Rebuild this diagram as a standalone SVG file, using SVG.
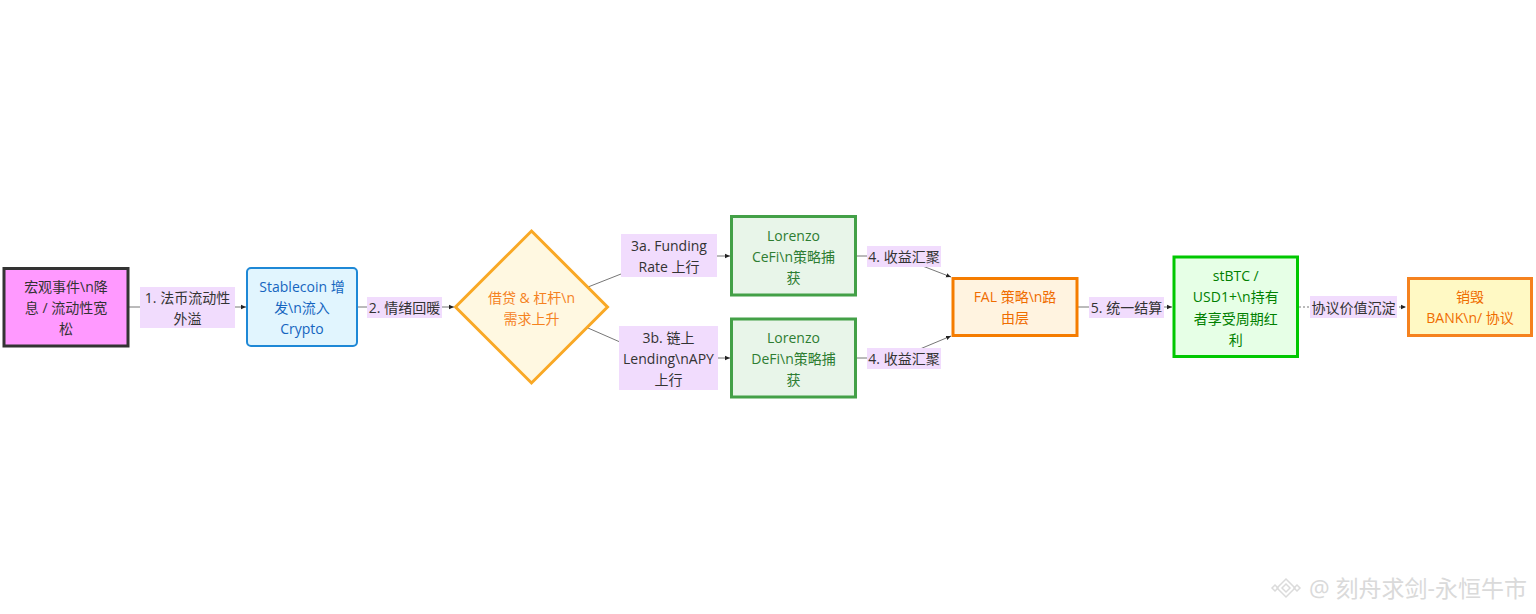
<svg xmlns="http://www.w3.org/2000/svg" width="1536" height="614" viewBox="0 0 1536 614">
<defs>
<marker id="arr" markerWidth="6" markerHeight="6" refX="5" refY="3" orient="auto" markerUnits="userSpaceOnUse">
<path d="M0,0.8 L5,3 L0,5.2 Z" fill="#222"/>
</marker>
<style>
text{font-family:"Open Sans","Noto Sans CJK SC",sans-serif;font-size:14px;text-anchor:middle;dominant-baseline:central}
.edge{fill:none;stroke:#777;stroke-width:1}
.dot{stroke-dasharray:2,2}
.lbl{fill:#f1dcfd}
.lt{fill:#333}
</style>
</defs>
<rect width="1536" height="614" fill="#ffffff"/>

<g id="connectors">
<path class="edge" d="M129,307 L246,307" marker-end="url(#arr)"/>
<path class="edge" d="M358,307 L454,307" marker-end="url(#arr)"/>
<path class="edge" d="M588,287 L621,274"/>
<path class="edge" d="M717,256 L730,256" marker-end="url(#arr)"/>
<path class="edge" d="M588,328 L620,342"/>
<path class="edge" d="M718,358 L730,358" marker-end="url(#arr)"/>
<path class="edge" d="M856,256 L868,256"/>
<path class="edge" d="M920,265 L951,277" marker-end="url(#arr)"/>
<path class="edge" d="M856,358 L868,358"/>
<path class="edge" d="M920,349 L951,336" marker-end="url(#arr)"/>
<path class="edge" d="M1078,307 L1172,307" marker-end="url(#arr)"/>
<path class="edge dot" d="M1299,307 L1406,307" marker-end="url(#arr)"/>
<g id="label1"><rect class="lbl" x="140" y="287" width="95" height="41"/><text class="lt" x="187.5" y="297">1. 法币流动性</text><text class="lt" x="187.5" y="318">外溢</text></g>
<g id="label2"><rect class="lbl" x="367" y="297" width="75" height="21"/><text class="lt" x="404.5" y="307.5">2. 情绪回暖</text></g>
<g id="label3a"><rect class="lbl" x="621" y="234" width="96" height="43"/><text class="lt" x="669" y="245">3a. Funding</text><text class="lt" x="669" y="266">Rate 上行</text></g>
<g id="label3b"><rect class="lbl" x="619" y="326" width="99" height="64"/><text class="lt" x="668.5" y="337">3b. 链上</text><text class="lt" x="668.5" y="358">Lending\nAPY</text><text class="lt" x="668.5" y="379">上行</text></g>
<g id="label4a"><rect class="lbl" x="867" y="246" width="74" height="21"/><text class="lt" x="904" y="256">4. 收益汇聚</text></g>
<g id="label4b"><rect class="lbl" x="867" y="348" width="74" height="21"/><text class="lt" x="904" y="358">4. 收益汇聚</text></g>
<g id="label5"><rect class="lbl" x="1089" y="297" width="75" height="21"/><text class="lt" x="1126.5" y="307.5">5. 统一结算</text></g>
<g id="label6"><rect class="lbl" x="1310" y="296" width="87" height="22"/><text class="lt" x="1353.5" y="307.5">协议价值沉淀</text></g>
</g>

<g id="n1">
<rect x="4" y="268.5" width="124" height="77.5" fill="#ff99ff" stroke="#333" stroke-width="3"/>
<text x="66" y="286" fill="#333">宏观事件\n降</text>
<text x="66" y="307" fill="#333">息 / 流动性宽</text>
<text x="66" y="328" fill="#333">松</text>
</g>

<g id="n2">
<rect x="247" y="268" width="110" height="78" rx="4" fill="#e1f5fe" stroke="#1e88d6" stroke-width="2"/>
<text x="302" y="286" fill="#1565c0">Stablecoin 增</text>
<text x="302" y="307" fill="#1565c0">发\n流入</text>
<text x="302" y="328" fill="#1565c0">Crypto</text>
</g>

<g id="n3">
<polygon points="531.5,231 607.5,307 531.5,383 455.5,307" fill="#fff8e1" stroke="#f9a825" stroke-width="3"/>
<text x="531.5" y="297" fill="#f5821f">借贷 &amp; 杠杆\n</text>
<text x="531.5" y="318" fill="#f5821f">需求上升</text>
</g>

<g id="n4">
<rect x="731.5" y="216.5" width="124" height="78.5" fill="#e8f5e9" stroke="#43a047" stroke-width="3"/>
<text x="793.5" y="235" fill="#2e7d32">Lorenzo</text>
<text x="793.5" y="256" fill="#2e7d32">CeFi\n策略捕</text>
<text x="793.5" y="277" fill="#2e7d32">获</text>
</g>

<g id="n5">
<rect x="731.5" y="319" width="124" height="78" fill="#e8f5e9" stroke="#43a047" stroke-width="3"/>
<text x="793.5" y="337" fill="#2e7d32">Lorenzo</text>
<text x="793.5" y="358" fill="#2e7d32">DeFi\n策略捕</text>
<text x="793.5" y="379" fill="#2e7d32">获</text>
</g>

<g id="n6">
<rect x="953" y="278.5" width="124" height="57" fill="#fff3e0" stroke="#f57c00" stroke-width="3"/>
<text x="1015" y="296.5" fill="#ef6c00">FAL 策略\n路</text>
<text x="1015" y="317.5" fill="#ef6c00">由层</text>
</g>

<g id="n7">
<rect x="1174" y="257" width="123.5" height="99.5" fill="#e6ffe6" stroke="#00c800" stroke-width="3"/>
<text x="1235.75" y="275" fill="#008000">stBTC /</text>
<text x="1235.75" y="296.5" fill="#008000">USD1+\n持有</text>
<text x="1235.75" y="318" fill="#008000">者享受周期红</text>
<text x="1235.75" y="339.5" fill="#008000">利</text>
</g>

<g id="n8">
<rect x="1408.5" y="278.5" width="123" height="57" fill="#fff9c4" stroke="#f5821f" stroke-width="3"/>
<text x="1470" y="296.5" fill="#ef6c00">销毁</text>
<text x="1470" y="317.5" fill="#ef6c00">BANK\n/ 协议</text>
</g>

<g id="watermark" opacity="0.9">
<g fill="none" stroke="#d8d8d8" stroke-width="1.5">
<path d="M1286,579 L1295,588 L1286,597 L1277,588 Z"/>
<path d="M1286,584 L1290,588 L1286,592 L1282,588 Z"/>
<path d="M1275,585 L1278,588 L1275,591 L1272,588 Z"/>
<path d="M1297,585 L1300,588 L1297,591 L1294,588 Z"/>
</g>
<text x="1418" y="588" style="font-size:23px" fill="#d6d6d6">@ 刻舟求剑-永恒牛市</text>
</g>
</svg>
